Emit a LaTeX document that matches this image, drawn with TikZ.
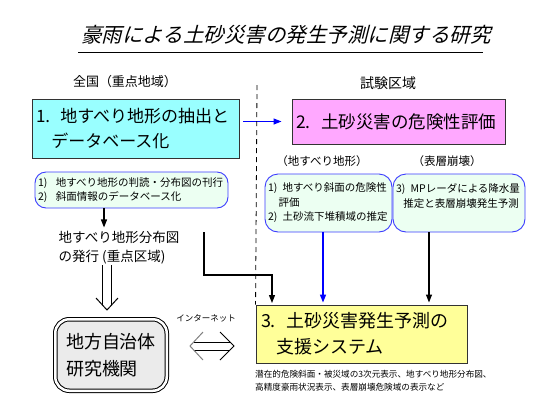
\documentclass[tikz,border=0pt]{standalone}
\usepackage{fontspec}
\setmainfont{Noto Sans CJK JP}
\newfontfamily\titlefont[FakeSlant=0.25]{Noto Sans CJK JP}
\usetikzlibrary{arrows.meta}
\definecolor{boxcyan}{RGB}{153,255,255}
\definecolor{boxpink}{RGB}{255,168,255}
\definecolor{boxyellow}{RGB}{255,255,153}
\definecolor{softgreen}{RGB}{236,255,242}
\definecolor{edgeblue}{RGB}{60,60,255}

\begin{document}
\begin{tikzpicture}[x=1pt, y=-1pt,
    >={Triangle[length=8pt,width=6pt]},
    topbox/.style={draw=black!80, line width=0.9pt, inner xsep=4pt, align=left},
    subbox/.style={draw=edgeblue, line width=0.9pt, fill=softgreen, rounded corners=13pt,
        inner xsep=3pt, align=left, font=\fontsize{10.5}{14.5}\selectfont},
    link/.style={line width=1.2pt, ->, shorten >=2pt},
    dblshaft/.style={double, double distance=8pt, line width=1pt}
]
    \useasboundingbox (0,0) rectangle (555,416);

    \node[font=\titlefont\fontsize{20.5}{24}\selectfont] (title) at (286,35) {豪雨による土砂災害の発生予測に関する研究};
    \draw[line width=0.8pt] (78,52) -- (483,52);

    \node[font=\fontsize{13}{16}\selectfont] (nation) at (125,82) {全国（重点地域）};
    \node[font=\fontsize{14}{16}\selectfont] (field) at (388,83) {試験区域};

    \node[topbox, fill=boxcyan, minimum width=207pt, minimum height=59pt, text width=199pt,
        font=\fontsize{17}{25}\selectfont] (extract) at (135.5,128.5)
        {1.\hspace{0.6em}地すべり地形の抽出と\\\hspace{0.9em}データベース化};
    \node[topbox, fill=boxpink, minimum width=213pt, minimum height=45pt, text width=205pt,
        font=\fontsize{17.5}{22}\selectfont] (hazard) at (398.5,121.5)
        {2.\hspace{0.6em}土砂災害の危険性評価};
    \draw[link, blue, shorten <=4pt, shorten >=10pt] (extract.east |- hazard.west) -- (hazard.west);

    % divider between the two regions
    \coordinate (divtop) at (257,85);

    \node[subbox, rounded corners=11pt, minimum width=193pt, minimum height=36pt, text width=187pt] (survey) at (131.5,190)
        {1)\hspace{0.8em}地すべり地形の判読・分布図の刊行\\2)\hspace{0.8em}斜面情報のデータベース化};
    \coordinate (surveyout) at (104,208);
    \node[font=\fontsize{13.5}{19}\selectfont, align=left] (pub) at (119,247.5)
        {地すべり地形分布図\\の発行 (重点区域)};
    \draw[link, shorten >=0pt] (surveyout) -- (surveyout |- pub.north);

    \node[font=\fontsize{11.5}{14}\selectfont] (slidelabel) at (322,161) {（地すべり地形）};
    \node[font=\fontsize{11.5}{14}\selectfont] (collapselabel) at (447,161) {（表層崩壊）};

    \node[subbox, minimum width=127pt, minimum height=58pt, text width=121pt] (slope) at (328.5,203)
        {1)\hspace{0.5em}地すべり斜面の危険性\\\hspace{1em}評価\\2)\hspace{0.5em}土砂流下堆積域の推定};
    \node[subbox, minimum width=132pt, minimum height=58pt, text width=126pt] (rain) at (459,203)
        {3)\hspace{0.5em}MPレーダによる降水量\\\hspace{0.7em}推定と表層崩壊発生予測\\\mbox{}};

    \node[topbox, fill=boxyellow, minimum width=211pt, minimum height=58pt, text width=201pt,
        inner xsep=5pt, font=\fontsize{18}{26}\selectfont] (system) at (361.5,334)
        {3.\hspace{0.6em}土砂災害発生予測の\\\hspace{0.85em}支援システム};
    \node[anchor=north west, inner sep=0pt, align=left, font=\fontsize{8.6}{13}\selectfont] (remark) at (255,370)
        {潜在的危険斜面・被災域の3次元表示、地すべり地形分布図、\\高精度豪雨状況表示、表層崩壊危険域の表示など};

    \draw[dashed, line width=0.8pt, dash pattern=on 5pt off 4pt] (divtop) -- (system.north west);

    % feeds into the support system
    \coordinate (slopeout) at (323,232);
    \coordinate (rainout) at (429,232);
    \coordinate (bypass) at (204,232);
    \coordinate (bypassend) at (272,305);
    \draw[link, blue, line width=1.5pt] (slopeout) -- (slopeout |- system.north);
    \draw[link] (rainout) -- (rainout |- system.north);
    \draw[link] (bypass) -- ++(0,43) -| (bypassend);

    \node[draw, double, double distance=2.5pt, line width=1pt, fill=black!8, rounded corners=14pt,
        minimum width=111.5pt, minimum height=71.5pt, align=left,
        font=\fontsize{18}{27}\selectfont] (local) at (111,355) {地方自治体\\研究機関};

    % publication handed to local bodies
    \coordinate (dtop) at (107,265);
    \coordinate (dtip) at (107,310);
    \draw[dblshaft, shorten >=5pt] (dtop) -- (dtip);
    \draw[line width=1pt] (dtip) ++(-11,-12) -- (dtip) -- ++(11,-12);

    \node[font=\fontsize{8.5}{10}\selectfont] (net) at (206,318) {インターネット};
    \coordinate (netL) at (190,346);
    \coordinate (netR) at (234,346);
    \draw[dblshaft, double distance=7pt, shorten <=4pt, shorten >=4pt] (netL) -- (netR);
    \draw[gray, line width=1pt] (netL) ++(13,-14) -- (netL) -- ++(13,14);
    \draw[line width=1pt] (netR) ++(-14,-14) -- (netR) -- ++(-14,14);
\end{tikzpicture}
\end{document}
